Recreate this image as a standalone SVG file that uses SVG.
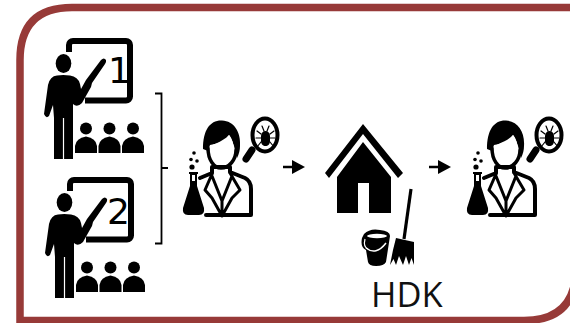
<svg xmlns="http://www.w3.org/2000/svg" width="570" height="323" viewBox="0 0 570 323">
<style>
.k{fill:#000}
.w{fill:#fff}
.o{fill:none;stroke:#000;stroke-linecap:round;stroke-linejoin:round}
.n{font-family:"DejaVu Sans",sans-serif;font-size:36px;fill:#000}
.l{font-family:"Open Sans","Noto Sans",sans-serif;font-size:34.500px;fill:#111}
</style>
<defs>
<g id="teacher">
<rect x="69" y="41" width="61" height="59.500" rx="4" class="o" stroke-width="6"/>
<rect x="64" y="52" width="12" height="26" class="w"/>
<rect x="76" y="94" width="9" height="10" class="w"/>
<path d="M88 92L105 62" stroke="#fff" stroke-width="9"/>
<ellipse cx="63.500" cy="63.500" rx="7.800" ry="9.500" class="k"/>
<path class="k" d="M57 75.500Q63 74.500 70 75.500Q78 76.500 80 84L81 89L86 80L101 60Q104 57 106 60Q106.500 62 105 64L92 83L91 87L82 103Q77 108 73 104V159H54V118L53 105L49 116Q46 119 44 114L48 85Q50 76 57 75.500Z"/>
<path d="M63.500 118V159" stroke="#fff" stroke-width="1.200"/>
<circle cx="86" cy="128.500" r="6" class="k"/><path class="k" d="M75 153V146Q76 138 86 136.500Q96 138 97 146V153Z"/>
<circle cx="109.500" cy="128.500" r="6" class="k"/><path class="k" d="M98.500 153V146Q99.500 138 109.500 136.500Q119.500 138 120.500 146V153Z"/>
<circle cx="133" cy="128.500" r="6" class="k"/><path class="k" d="M122 153V146Q123 138 133 136.500Q143 138 144 146V153Z"/>
</g>
<g id="scientist">
<path class="o" stroke-width="4" d="M200 178L212 173V167H230V172L245 178Q251 181 251 189V215M206 215H251"/>
<path class="o" stroke-width="3" d="M212 174L205 190L212 198L222 216M230 173L240 190L232 198L222 216M212 176L222 201L232 176M222 201V216"/>
<path class="k" d="M203 149C203 130 210 120 222 120.500C234 121 241 132 240 146C240 150 239 154 237 158L234 146C232 140 231 137 229 135C226 141 220 143 210 145L208 151Z"/>
<path class="w" d="M208 149C210 144 222 143 229 135C232 139 234 144 234 150C234 160 228 165 221 165C214 165 208 158 208 149Z"/>
<path class="o" stroke-width="3.500" d="M208 148C208 160 214 168 221 168C229 168 236 160 236 150"/>
<path class="k" d="M189 172H198V174H197V186L204 208Q205 215 199 215H188Q182 215 183 208L190 186V174H189Z"/>
<rect x="192" y="175" width="3" height="6" class="w"/>
<circle cx="194" cy="153" r="1.800" class="k"/><circle cx="191" cy="159.500" r="1.800" class="k"/><circle cx="197" cy="161" r="1.800" class="k"/><circle cx="192" cy="167" r="2.600" class="k"/>
<ellipse cx="265" cy="135" rx="12.500" ry="16.500" fill="#fff" stroke="#000" stroke-width="4"/>
<path class="o" stroke-width="7" d="M252 150L246 159"/>
<path class="k" d="M265.500 131C268 131 270 133 270 136V141C270 144 268 146 265.500 146C263 146 261 144 261 141V136C261 133 263 131 265.500 131Z"/>
<path class="o" stroke-width="1.200" d="M262 126L264 131M269 126L267 131M261 134L257 131M270 134L274 131M261 138H256M270 138H275M261 142L257 147M270 142L274 147"/>
</g>
</defs>
<path id="frame" d="M20 60Q20 7.500 72 7.500H576V268Q576 320.500 524 320.500H20Z" fill="none" stroke="#973a38" stroke-width="7.500"/>
<g id="teacher-1"><use href="#teacher"/><text class="n" x="108" y="83">1</text></g>
<g id="teacher-2"><use href="#teacher" x="1" y="139"/><text class="n" x="107" y="224">2</text></g>
<g id="connectors">
<path d="M155 93.500H161.500V243.500H155M161.500 168H168" fill="none" stroke="#000" stroke-width="1.800"/>
<path d="M283 167H293" stroke="#000" stroke-width="2.500"/><path class="k" d="M292 160L305 167L292 174Z"/>
<path d="M429 167H439" stroke="#000" stroke-width="2.500"/><path class="k" d="M438 160L451 167L438 174Z"/>
</g>
<g id="scientist-1"><use href="#scientist"/></g>
<g id="scientist-2"><use href="#scientist" x="284"/></g>
<g id="house">
<path class="k" d="M363 124L403 173L398 178L363 134L329 178L325 173Z"/>
<path class="k" d="M363 142L391 177V213H369V183H358V213H337V177Z"/>
</g>
<g id="cleaning">
<path d="M411 189L404 239" stroke="#000" stroke-width="3.200"/>
<path class="k" d="M396 238L414 242V265L411.500 258L409 265L406 256L403 265L399 256L396 265L393.500 259L390 265L393 250Z"/>
<path class="k" d="M364 234Q370 228 380 230Q390 231 390 236L386 262Q384 266 376 266Q369 266 368 262L366 250Q360 247 362 238Z"/>
<ellipse cx="377" cy="236" rx="10" ry="2.200" class="w"/>
<path d="M365 239Q363 247 368 249" fill="none" stroke="#fff" stroke-width="1.200"/>
<path d="M366 248Q376 256 386 243" fill="none" stroke="#fff" stroke-width="1.500"/>
</g>
<text id="hdk" class="l" x="371" y="307">HDK</text>
</svg>
